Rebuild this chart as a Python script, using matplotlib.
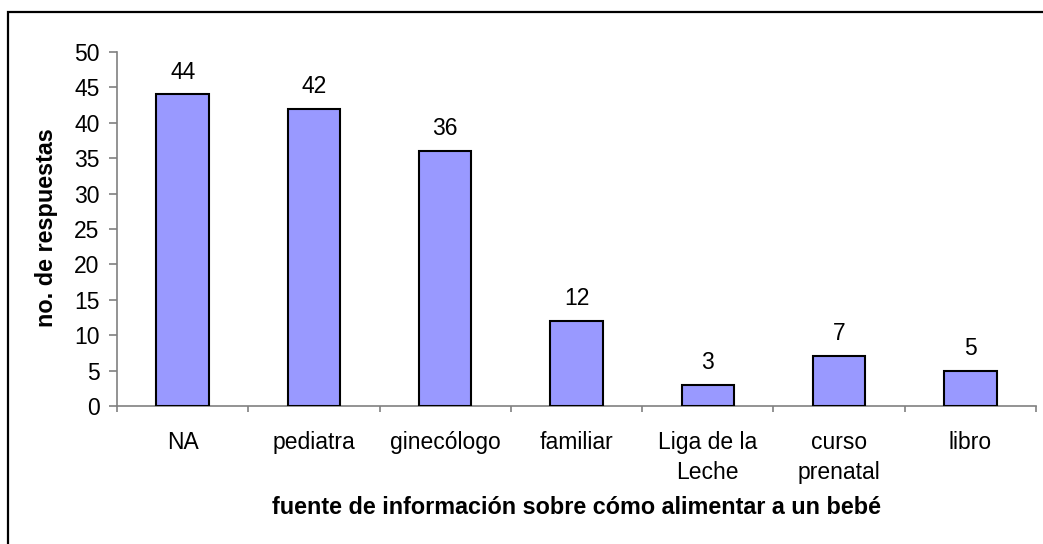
import matplotlib
matplotlib.use("Agg")
import matplotlib.pyplot as plt
from matplotlib.patches import Rectangle

categories = ["NA", "pediatra", "ginecólogo", "familiar", "Liga de la\nLeche", "curso\nprenatal", "libro"]
values = [44, 42, 36, 12, 3, 7, 5]
yticks = [0, 5, 10, 15, 20, 25, 30, 35, 40, 45, 50]

plt.rcParams['font.family'] = ['Liberation Sans', 'DejaVu Sans']

W, H = 1043, 544
fig = plt.figure(figsize=(W/100, H/100), dpi=100)
ax = fig.add_axes([117/W, 1-406/H, (1036-117)/W, (406-52)/H])

x = list(range(len(categories)))
ax.bar(x, values, width=0.4, color="#9999FF", edgecolor="black", linewidth=1.5, zorder=3)
for xi, v in zip(x, values):
    ax.annotate(str(v), (xi, v), xytext=(0, 11.5), textcoords="offset points",
                ha="center", va="baseline", fontsize=16.5)

ax.set_xlim(-0.5, len(categories)-0.5)
ax.set_ylim(0, 50)
ax.set_yticks(yticks)
ax.tick_params(axis="y", labelsize=16.5, direction="out", length=6, width=1.2,
               color="#808080", pad=6.5)
ax.set_xticks([i-0.5 for i in range(len(categories)+1)])
ax.set_xticklabels([])
ax.tick_params(axis="x", direction="out", length=4.5, width=1.2, color="#808080")
for xi, c in zip(x, categories):
    ax.annotate(c, (xi, 0), xytext=(0, -18.3), textcoords="offset points",
                ha="center", va="top", fontsize=16.5, linespacing=1.38)

for s in ["top", "right"]:
    ax.spines[s].set_visible(False)
for s in ["left", "bottom"]:
    ax.spines[s].set_color("#808080")
    ax.spines[s].set_linewidth(1.2)

fig.text(47/W, 1-228/H, "no. de respuestas", rotation=90, ha="center", va="center",
         fontsize=16.8, fontweight="bold")
fig.text(576/W, 1-508/H, "fuente de información sobre cómo alimentar a un bebé",
         ha="center", va="center", fontsize=16.8, fontweight="bold")

fig.patches.append(Rectangle((8/W, -0.1), 1.2, 1.1-12/H, transform=fig.transFigure,
                             fill=False, edgecolor="black", linewidth=1.6))

fig.savefig("out.png", dpi=100)
